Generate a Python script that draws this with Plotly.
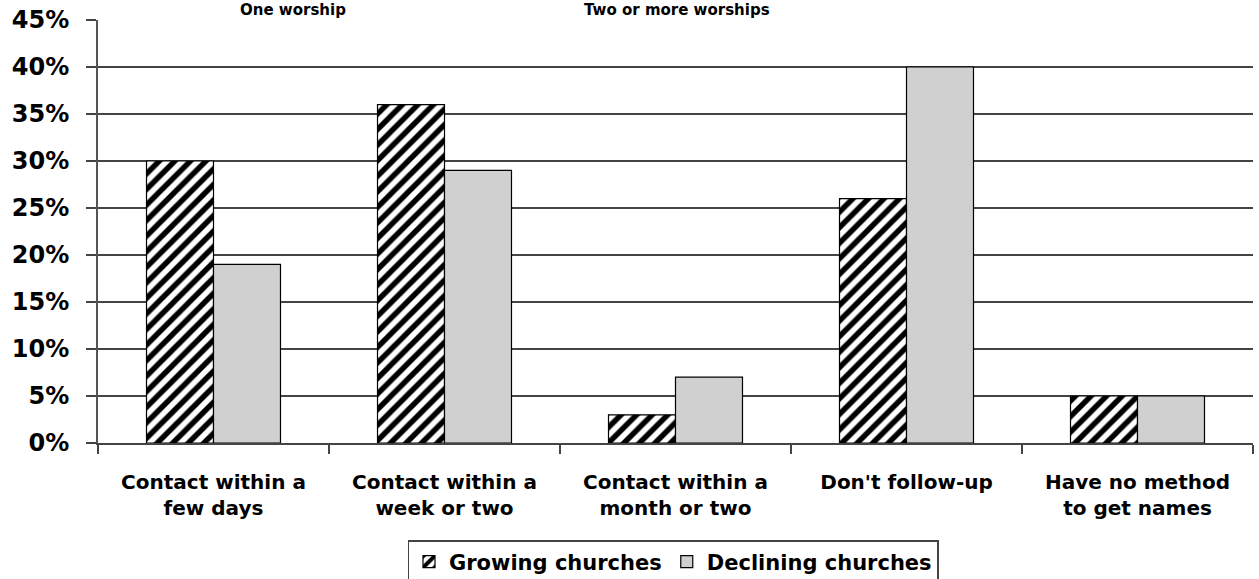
import plotly.graph_objects as go

categories = [
    "Contact within a<br>few days",
    "Contact within a<br>week or two",
    "Contact within a<br>month or two",
    "Don't follow-up",
    "Have no method<br>to get names",
]
growing = [30, 36, 3, 26, 5]
declining = [19, 29, 7, 40, 5]
y_ticks = [0, 5, 10, 15, 20, 25, 30, 35, 40, 45]
y_tick_labels = [f"{v}%" for v in y_ticks]

FONT = "DejaVu Sans, Arial, sans-serif"

fig = go.Figure()
fig.add_trace(go.Bar(
    name="Growing churches",
    x=categories,
    y=growing,
    marker=dict(
        color="white",
        line=dict(color="black", width=1.2),
        pattern=dict(shape="/", fgcolor="black", bgcolor="white",
                     fgopacity=1, size=11, solidity=0.5),
    ),
))
fig.add_trace(go.Bar(
    name="Declining churches",
    x=categories,
    y=declining,
    marker=dict(color="#d0d0d0", line=dict(color="black", width=1.2)),
))

fig.update_layout(
    width=1259,
    height=579,
    margin=dict(l=98, r=6, t=20, b=136, autoexpand=False),
    paper_bgcolor="white",
    plot_bgcolor="white",
    barmode="group",
    bargap=0.42,
    bargroupgap=0,
    font=dict(family=FONT, color="black"),
    showlegend=True,
    legend=dict(
        orientation="h",
        x=(673 - 98) / 1155, xanchor="center",
        y=(443 - 540) / 423, yanchor="top",
        bordercolor="#444",
        borderwidth=1.5,
        font=dict(family=FONT, size=21, weight="bold"),
        itemwidth=30,
        tracegroupgap=0,
    ),
    xaxis=dict(
        type="category",
        automargin=False,
        tickson="boundaries",
        ticks="outside",
        ticklen=9,
        tickcolor="#444",
        tickwidth=1.5,
        showline=True,
        linecolor="#444",
        linewidth=1.5,
        showgrid=False,
        ticklabelstandoff=20,
        tickfont=dict(family=FONT, size=20, weight="bold"),
    ),
    yaxis=dict(
        range=[0, 45],
        automargin=False,
        tickvals=y_ticks,
        ticktext=y_tick_labels,
        ticks="outside",
        ticklen=10,
        tickcolor="#444",
        tickwidth=1.5,
        showline=True,
        linecolor="#555",
        linewidth=2,
        showgrid=True,
        gridcolor="#444",
        gridwidth=1.5,
        zeroline=False,
        ticklabelstandoff=12,
        tickfont=dict(family=FONT, size=24, weight="bold"),
    ),
)

# Group headings above the plot
for label, xc in [("One worship", 293), ("Two or more worships", 677)]:
    fig.add_annotation(
        text=label,
        xref="paper", yref="paper",
        x=(xc - 98) / 1155, y=443 / 423,
        xanchor="center", yanchor="top",
        showarrow=False,
        borderpad=0,
        font=dict(family=FONT, size=15, weight="bold", color="black"),
    )

fig.write_html("out.html")
